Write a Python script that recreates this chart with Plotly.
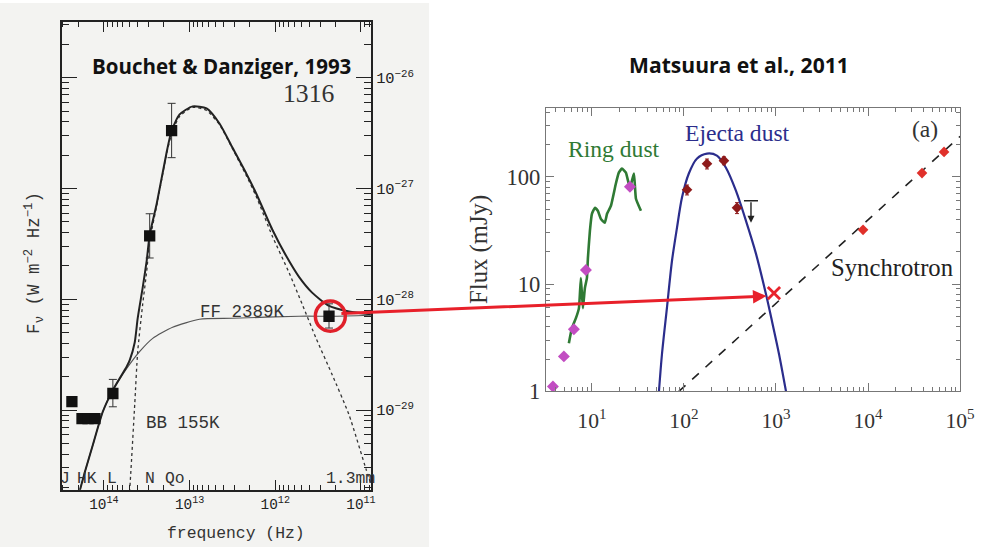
import numpy as np
import plotly.graph_objects as go

# design coordinates are in the 987x547 frame; the figure is drawn slightly larger because
# the captured page is scaled down by about 987/1000 x 547/562
REF_W, REF_H = 987, 547
W, H = 1000, 562
SX, SY = W / REF_W, H / REF_H
FS = SY

# ---------------- Left panel (Bouchet & Danziger 1993) ----------------
# photometry: frequency (Hz), flux density (W m^-2 Hz^-1), error bar limits
obs_nu = [1.62e13, 2.92e13, 7.85e13, 2.36e14, 1.80e14, 1.53e14, 1.27e14, 2.36e11]
obs_f = [3.34e-27, 3.73e-28, 1.41e-29, 1.19e-29, 8.36e-30, 8.36e-30, 8.36e-30, 7.03e-29]
obs_hi = [5.88e-27, 5.92e-28, 1.89e-29, 1.19e-29, 8.36e-30, 8.36e-30, 8.36e-30, 9.10e-29]
obs_lo = [1.90e-27, 2.36e-28, 1.07e-29, 1.19e-29, 8.36e-30, 8.36e-30, 8.36e-30, 5.50e-29]

# model curves (log10 values)
total_lognu = [14.279, 14.221, 14.128, 14.012, 13.895, 13.733, 13.698, 13.640, 13.605,
               13.547, 13.500, 13.465, 13.384, 13.267, 13.209, 13.116, 12.965, 12.802,
               12.651, 12.500, 12.337, 12.221, 12.035, 11.872, 11.721, 11.570, 11.372,
               11.140, 10.884]
total_logf = [-29.722, -29.558, -29.313, -29.014, -28.820, -28.607, -28.550, -28.390, -28.170,
              -27.895, -27.650, -27.417, -27.140, -26.670, -26.476, -26.331, -26.258, -26.277,
              -26.413, -26.630, -26.866, -27.047, -27.370, -27.610, -27.800, -27.940, -28.060,
              -28.110, -28.135]

ff_lognu = [14.33, 14.279, 14.221, 14.128, 14.012, 13.895, 13.733, 13.581, 13.430, 13.198,
            12.884, 12.500, 11.721, 11.337, 10.884]
ff_logf = [-29.95, -29.722, -29.558, -29.313, -29.014, -28.820, -28.625, -28.471, -28.353,
           -28.253, -28.180, -28.171, -28.153, -28.153, -28.144]

bb_lognu = [13.72, 13.698, 13.640, 13.605, 13.547, 13.500, 13.465, 13.384, 13.267, 13.209,
            13.116, 12.965, 12.802, 12.651, 12.500, 12.337, 12.221, 12.035, 11.837, 11.686,
            11.523, 11.337, 11.140, 10.942, 10.884]
bb_logf = [-29.90, -29.713, -28.951, -28.471, -28.045, -27.745, -27.473, -27.156, -26.684,
           -26.503, -26.349, -26.267, -26.295, -26.422, -26.639, -26.884, -27.074, -27.428,
           -27.763, -28.044, -28.353, -28.679, -29.042, -29.531, -29.667]

left_xticks = [1e14, 1e13, 1e12, 1e11]
left_xticktext = ["10<sup>14</sup>", "10<sup>13</sup>", "10<sup>12</sup>", "10<sup>11</sup>"]
left_yticks = [1e-26, 1e-27, 1e-28, 1e-29]
left_yticktext = ["10<sup>−26</sup>", "10<sup>−27</sup>", "10<sup>−28</sup>", "10<sup>−29</sup>"]

# ---------------- Right panel (Matsuura et al. 2011) ----------------
ring_wl = [5.62, 6.06, 6.70, 7.23, 7.59, 7.98, 8.39, 8.83, 9.05, 9.51, 10.0, 10.8, 11.6,
           12.5, 13.8, 14.6, 16.1, 18.2, 19.6, 21.2, 23.4, 25.9, 28.6, 30.1, 34.1]
ring_flux = [2.81, 3.88, 4.81, 5.97, 11.4, 5.97, 9.18, 11.4, 17.5, 31.3, 45.1, 51.3, 48.1,
             40.5, 37.2, 45.1, 53.6, 86.0, 109, 119, 109, 78.9, 107, 62.3, 48.1]
ring_phot_wl = [3.77, 4.96, 6.37, 8.61, 25.9]
ring_phot_flux = [1.11, 2.12, 3.80, 13.5, 80.7]

ejecta_wl = [53.5, 57.7, 65.3, 74.1, 84.0, 95.1, 113, 138, 178, 228, 286, 367, 472, 607,
             778, 905, 1080, 1285]
ejecta_flux = [1.0, 2.22, 5.97, 16.4, 33.4, 63.6, 107, 147, 164, 157, 121, 74.0, 38.8,
               19.1, 8.07, 4.51, 2.22, 1.0]
ejecta_obs_wl = [108, 178, 272, 377]
ejecta_obs_flux = [75.6, 132, 141, 51.3]
ejecta_obs_err = [8, 14, 12, 6]
ul_wl = 535
ul_top = 59.7
ul_tip = 37.2

sync_line_wl = [88, 1e5]
sync_line_flux = [1.0, 237]
sync_obs_wl = [8830, 38600, 67000]
sync_obs_flux = [32, 108, 170]
marked_wl = [950]
marked_flux = [8.24]

right_xticks = [1e1, 1e2, 1e3, 1e4, 1e5]
right_xticktext = ["10<sup>1</sup>", "10<sup>2</sup>", "10<sup>3</sup>", "10<sup>4</sup>", "10<sup>5</sup>"]
right_yticks = [1, 10, 100]
right_yticktext = ["1", "10", "100"]


def pw(p):
    return p / REF_W


def ph(p):
    return 1 - p / REF_H


def fs(v):
    return round(v * FS, 1)


def minor_vals(d0, d1):
    return [k * 10.0 ** d for d in range(d0, d1) for k in range(2, 10)]


fig = go.Figure()

# left traces
fig.add_trace(go.Scatter(x=10 ** np.array(ff_lognu), y=10 ** np.array(ff_logf), mode="lines",
                         line=dict(color="#555", width=1.2, shape="spline", smoothing=0.6),
                         xaxis="x", yaxis="y", showlegend=False))
fig.add_trace(go.Scatter(x=10 ** np.array(bb_lognu), y=10 ** np.array(bb_logf), mode="lines",
                         line=dict(color="#333", width=1.3, dash="dot", shape="spline", smoothing=0.6),
                         xaxis="x", yaxis="y", showlegend=False))
fig.add_trace(go.Scatter(x=10 ** np.array(total_lognu), y=10 ** np.array(total_logf), mode="lines",
                         line=dict(color="#222", width=2, shape="spline", smoothing=0.6),
                         xaxis="x", yaxis="y", showlegend=False))
obs_f_a = np.array(obs_f)
fig.add_trace(go.Scatter(x=obs_nu, y=obs_f, mode="markers",
                         marker=dict(symbol="square", size=fs(11), color="#111"),
                         error_y=dict(type="data", symmetric=False,
                                      array=np.array(obs_hi) - obs_f_a,
                                      arrayminus=obs_f_a - np.array(obs_lo),
                                      color="#333", thickness=1, width=4),
                         xaxis="x", yaxis="y", showlegend=False))

# right traces
fig.add_trace(go.Scatter(x=sync_line_wl, y=sync_line_flux, mode="lines",
                         line=dict(color="#222", width=1.6, dash="dash"),
                         xaxis="x2", yaxis="y2", showlegend=False))
fig.add_trace(go.Scatter(x=ring_wl, y=ring_flux, mode="lines",
                         line=dict(color="#2f7a34", width=2.6, shape="spline", smoothing=0.4),
                         xaxis="x2", yaxis="y2", showlegend=False))
fig.add_trace(go.Scatter(x=ejecta_wl, y=ejecta_flux, mode="lines",
                         line=dict(color="#2b2d8c", width=2.2, shape="spline", smoothing=0.8),
                         xaxis="x2", yaxis="y2", showlegend=False))
fig.add_trace(go.Scatter(x=ring_phot_wl, y=ring_phot_flux, mode="markers",
                         marker=dict(symbol="diamond", size=fs(9), color="#c24dc2"),
                         xaxis="x2", yaxis="y2", showlegend=False))
fig.add_trace(go.Scatter(x=ejecta_obs_wl, y=ejecta_obs_flux, mode="markers",
                         marker=dict(symbol="diamond", size=fs(8), color="#8e1a1a"),
                         error_y=dict(type="data", array=ejecta_obs_err, color="#8e1a1a",
                                      thickness=1, width=2),
                         xaxis="x2", yaxis="y2", showlegend=False))
fig.add_trace(go.Scatter(x=sync_obs_wl, y=sync_obs_flux, mode="markers",
                         marker=dict(symbol="diamond", size=fs(8), color="#e0302a"),
                         xaxis="x2", yaxis="y2", showlegend=False))
fig.add_trace(go.Scatter(x=[ul_wl], y=[ul_top], mode="markers",
                         marker=dict(symbol="line-ew-open", size=10, color="#222",
                                     line=dict(color="#222", width=1.5)),
                         xaxis="x2", yaxis="y2", showlegend=False))
fig.add_trace(go.Scatter(x=marked_wl, y=marked_flux, mode="markers",
                         marker=dict(symbol="x-thin-open", size=fs(12), color="#e8242c",
                                     line=dict(color="#e8242c", width=2.8)),
                         xaxis="x2", yaxis="y2", showlegend=False))

axis_left = dict(showline=True, linecolor="#222", linewidth=1.6, mirror="allticks",
                 ticks="inside", tickcolor="#222", showgrid=False, zeroline=False)
axis_right = dict(showline=True, linecolor="#777", linewidth=1.2, mirror="allticks",
                  ticks="inside", tickcolor="#777", showgrid=False, zeroline=False)

fig.update_layout(
    width=W, height=H, margin=dict(l=0, r=0, t=0, b=0),
    paper_bgcolor="white", plot_bgcolor="rgba(0,0,0,0)",
    xaxis=dict(axis_left, type="log", range=[14.49, 10.88], domain=[pw(62), pw(372)],
               anchor="y", tickmode="array", tickvals=left_xticks, ticktext=left_xticktext,
               ticklen=10, tickwidth=1.3,
               tickfont=dict(family="Liberation Mono", size=fs(14), color="#222"),
               minor=dict(tickmode="array", tickvals=minor_vals(10, 15), ticks="inside",
                          ticklen=5, tickcolor="#222", showgrid=False)),
    yaxis=dict(axis_left, type="log", range=[-29.72, -25.497], domain=[ph(488), ph(22)],
               anchor="x", side="right", tickmode="array", tickvals=left_yticks,
               ticktext=left_yticktext, ticklen=15, tickwidth=1.3,
               tickfont=dict(family="Liberation Mono", size=fs(15), color="#222"),
               minor=dict(tickmode="array", tickvals=minor_vals(-30, -25), ticks="inside",
                          ticklen=7, tickcolor="#222", showgrid=False)),
    xaxis2=dict(axis_right, type="log", range=[0.5, 5.0], domain=[pw(547), pw(962)],
                anchor="y2", tickmode="array", tickvals=right_xticks, ticktext=right_xticktext,
                ticklen=8, ticklabelstandoff=10,
                tickfont=dict(family="Liberation Serif", size=fs(21), color="#333"),
                minor=dict(tickmode="array", tickvals=minor_vals(0, 5), ticks="inside",
                           ticklen=4, tickcolor="#777", showgrid=False)),
    yaxis2=dict(axis_right, type="log", range=[0, 2.636], domain=[ph(390), ph(108)],
                anchor="x2", tickmode="array", tickvals=right_yticks, ticktext=right_yticktext,
                ticklen=8,
                tickfont=dict(family="Liberation Serif", size=fs(22), color="#333"),
                minor=dict(tickmode="array", tickvals=minor_vals(0, 3), ticks="inside",
                           ticklen=4, tickcolor="#777", showgrid=False)),
)

shapes = [
    dict(type="rect", xref="paper", yref="paper", x0=pw(0), x1=pw(430), y0=ph(547), y1=ph(3),
         fillcolor="#f3f3f1", line=dict(width=0), layer="below"),
    dict(type="circle", xref="paper", yref="paper", x0=pw(331 - 15), x1=pw(331 + 15),
         y0=ph(315 + 15), y1=ph(315 - 15), line=dict(color="#e0202a", width=3.5)),
]
fig.update_layout(shapes=shapes)


def txt(x, y, s, size, family, color="#222", **kw):
    fig.add_annotation(x=pw(x), y=ph(y), xref="paper", yref="paper", text=s, showarrow=False,
                       xanchor="center", yanchor="middle",
                       font=dict(family=family, size=fs(size), color=color), **kw)


mono = "Liberation Mono"
serif = "Liberation Serif"
txt(222, 66, "<b>Bouchet &amp; Danziger, 1993</b>", 20, "Open Sans", "#111")
txt(310, 93, "1316", 25, serif, "#333")
txt(243, 311, "FF 2389K", 17, mono, "#333")
txt(183, 421, "BB 155K", 17, mono, "#333")
for lx, lab in [(65, "J"), (87, "HK"), (112, "L"), (150, "N"), (175, "Qo"), (351, "1.3mm")]:
    txt(lx, 477, lab, 16, mono, "#333")
txt(236, 532, "frequency (Hz)", 16, mono, "#333")
txt(35, 262, "F<sub>ν</sub> (W m<sup>−2</sup> Hz<sup>−1</sup>)", 17, mono, "#333", textangle=-90)

txt(740, 64, "<b>Matsuura et al., 2011</b>", 20.5, "Open Sans", "#111")
txt(615, 148, "Ring dust", 23, serif, "#2f7a34")
txt(739, 133, "Ejecta dust", 23, serif, "#2b2d8c")
txt(927, 129, "(a)", 23, serif, "#333")
txt(894, 267, "Synchrotron", 24, serif, "#222")
txt(480, 249, "Flux (mJy)", 24, serif, "#333", textangle=-90)

# upper-limit arrow
fig.add_annotation(x=np.log10(ul_wl), y=np.log10(ul_tip), ax=np.log10(ul_wl), ay=np.log10(ul_top),
                   xref="x2", yref="y2", axref="x2", ayref="y2", text="", showarrow=True,
                   arrowhead=2, arrowsize=1, arrowwidth=1.4, arrowcolor="#222")

# connecting red arrow
fig.add_annotation(x=pw(768), y=ph(295), xref="paper", yref="paper",
                   ax=(347 - 768) * SX, ay=(312 - 295) * SY,
                   text="", showarrow=True, arrowhead=2, arrowsize=0.9, arrowwidth=3,
                   arrowcolor="#e8202a", standoff=0)

fig.write_html("out.html", config={"displayModeBar": False},
               post_script="document.body.style.margin='0';document.body.style.overflow='hidden';")
